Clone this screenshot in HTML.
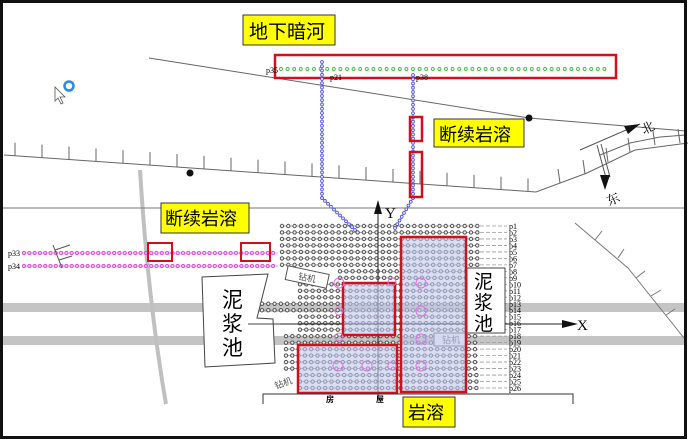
<!DOCTYPE html>
<html><head><meta charset="utf-8">
<style>
html,body{margin:0;padding:0;background:#fff}
svg{display:block}
text{font-family:"Liberation Serif","Noto Serif CJK SC",serif}
.cj{font-family:"Liberation Sans","Noto Sans CJK SC",sans-serif}
</style></head><body>
<svg id="s" width="688" height="441" viewBox="0 0 688 441" xmlns="http://www.w3.org/2000/svg">
<rect x="0" y="0" width="688" height="441" fill="#fff"/>
<rect x="3" y="303" width="682" height="9" fill="#c4c4c4"/>
<rect x="3" y="336" width="682" height="9" fill="#c4c4c4"/>
<path d="M140,170 Q148,300 166,404" stroke="#c0c0c0" stroke-width="4" fill="none"/>
<line x1="3" y1="208" x2="685" y2="208" stroke="#777" stroke-width="1"/>
<polyline points="149,58 529,118 686,131" fill="none" stroke="#666" stroke-width="1"/>
<circle cx="529" cy="118" r="3.5" fill="#111"/>
<polyline id="hl" points="4,155 536,192 587,173 635,150 688,143" fill="none" stroke="#666" stroke-width="1"/>
<g id="ticks" stroke="#666" stroke-width="1"></g>
<circle cx="190" cy="173" r="3.5" fill="#111"/>
<polyline points="600,155 630,143 660,137 686,135" fill="none" stroke="#666"/>
<line x1="580" y1="150" x2="640" y2="124" stroke="#555"/>
<polygon points="640,124 628,134 624,126" fill="#111"/>
<line x1="597" y1="145" x2="606" y2="178" stroke="#555"/>
<line x1="601" y1="144" x2="610" y2="177" stroke="#555"/>
<polygon points="605,190 600,175 610,175" fill="#111"/>
<text x="641" y="132" font-size="13" transform="rotate(-25 648 127)">北</text>
<text x="606" y="204" font-size="13" transform="rotate(-25 612 198)">东</text>
<polyline points="575,223 628,268 684,338" fill="none" stroke="#777"/>
<g stroke="#777"><line x1="595" y1="240" x2="602" y2="231"/><line x1="618" y1="258" x2="624" y2="249"/><line x1="636" y1="278" x2="645" y2="271"/><line x1="651" y1="296" x2="661" y2="290"/><line x1="666" y1="315" x2="675" y2="309"/></g>
<polygon points="202,277 268,274 257,318 273,319 275,363 205,367" fill="#fff" stroke="#444"/>
<line x1="248" y1="324" x2="300" y2="324" stroke="#444"/>
<text x="222" y="307" font-size="21" class="cj">泥</text>
<text x="222" y="331" font-size="21" class="cj">浆</text>
<text x="222" y="355" font-size="21" class="cj">池</text>
<g id="mag"></g>
<text x="8" y="256" font-size="8">p33</text>
<text x="8" y="269" font-size="8">p34</text>
<g stroke="#555"><line x1="53" y1="245" x2="62" y2="268"/><line x1="55" y1="250" x2="70" y2="245"/><line x1="59" y1="260" x2="72" y2="256"/></g>
<rect x="148" y="243" width="24" height="18" fill="none" stroke="#d0101c" stroke-width="2"/>
<rect x="241" y="243" width="29" height="18" fill="none" stroke="#d0101c" stroke-width="2"/>
<g id="grid"></g>
<line x1="378" y1="212" x2="378" y2="398" stroke="#222"/>
<polygon points="378,200 374,214 382,214" fill="#111"/>
<text x="385" y="218" font-size="15">Y</text>
<line x1="280" y1="324" x2="565" y2="324" stroke="#222"/>
<polygon points="578,324 562,320 562,328" fill="#111"/>
<text x="577" y="330" font-size="15">X</text>
<rect x="467" y="268" width="38" height="65" fill="#fff" stroke="#444"/>
<text x="474" y="288" font-size="19" class="cj">泥</text>
<text x="474" y="309" font-size="19" class="cj">浆</text>
<text x="474" y="330" font-size="19" class="cj">池</text>
<g transform="rotate(12 307 278)"><rect x="286" y="270" width="42" height="14" fill="#fff" stroke="#555"/><text x="298" y="281" font-size="9" fill="#555" class="cj">钻机</text></g>
<rect x="434" y="333" width="32" height="13" fill="#f4f4fa" stroke="#555"/><text x="442" y="343" font-size="9" fill="#555" class="cj">钻机</text>
<text x="274" y="386" font-size="9" fill="#555" class="cj" transform="rotate(-20 284 382)">钻机</text>
<rect x="401" y="237" width="65" height="155" fill="#c0c8ec" fill-opacity="0.6" stroke="#d0101c" stroke-width="2.5"/>
<rect x="343" y="283" width="52" height="52" fill="#c0c8ec" fill-opacity="0.6" stroke="#d0101c" stroke-width="2.5"/>
<rect x="298" y="345" width="99" height="48" fill="#c0c8ec" fill-opacity="0.6" stroke="#d0101c" stroke-width="2.5"/>
<g fill="none" stroke="#e070e0" stroke-width="1">
<circle cx="339" cy="283" r="5"/><circle cx="392" cy="282" r="4"/><circle cx="339" cy="311" r="4"/><circle cx="339" cy="337" r="4"/><circle cx="421" cy="283" r="5"/><circle cx="421" cy="311" r="5"/><circle cx="421" cy="339" r="5"/><circle cx="421" cy="366" r="5"/><circle cx="367" cy="366" r="5"/><circle cx="338" cy="366" r="5"/><circle cx="392" cy="366" r="4"/></g>
<text x="336" y="286" font-size="8" fill="#e070e0">1</text>
<polyline points="263,404 263,394 573,394 573,404" fill="none" stroke="#333"/>
<text x="326" y="402" font-size="8" font-weight="bold" class="cj">房</text>
<text x="376" y="402" font-size="8" font-weight="bold" class="cj">屋</text>
<g id="green"></g>
<rect x="275" y="55" width="341" height="23" fill="none" stroke="#d0101c" stroke-width="2.5"/>
<text x="266" y="73" font-size="8">p35</text>
<text x="330" y="80" font-size="8">p21</text>
<text x="416" y="80" font-size="8">p38</text>
<g id="blue"></g>
<rect x="410" y="117" width="12" height="24" fill="none" stroke="#d0101c" stroke-width="2.5"/>
<rect x="410" y="152" width="12" height="45" fill="none" stroke="#d0101c" stroke-width="2.5"/>
<rect x="243" y="15" width="92" height="30" fill="#ffff00" stroke="#333"/>
<text x="249" y="38" font-size="19" class="cj">地下暗河</text>
<rect x="434" y="119" width="90" height="28" fill="#ffff00" stroke="#333"/>
<text x="439" y="141" font-size="18" class="cj">断续岩溶</text>
<rect x="161" y="203" width="88" height="30" fill="#ffff00" stroke="#333"/>
<text x="165" y="225" font-size="18" class="cj">断续岩溶</text>
<rect x="403" y="397" width="52" height="30" fill="#ffff00" stroke="#333"/>
<text x="408" y="419" font-size="18" class="cj">岩溶</text>
<circle cx="69" cy="86" r="4.5" fill="none" stroke="#2a8be0" stroke-width="2.5"/>
<path d="M55,87 L55,101 L58,98 L61,104 L63,103 L60,97 L65,97 Z" fill="#fff" stroke="#555" stroke-width="0.8"/>
<rect x="1.5" y="1.5" width="684" height="436" fill="none" stroke="#111" stroke-width="3"/>
</svg>
<script>
var NS="http://www.w3.org/2000/svg";
function el(p,t,a){var e=document.createElementNS(NS,t);for(var k in a)e.setAttribute(k,a[k]);p.appendChild(e);return e;}
var tg=document.getElementById('ticks');
for(var x=15;x<530;x+=27){var y=155+(x-4)*(37/532);el(tg,'line',{x1:x,y1:y,x2:x,y2:y-13});}
[[560,183],[585,174],[608,162],[630,152],[655,145],[680,143]].forEach(function(p){el(tg,'line',{x1:p[0],y1:p[1],x2:p[0]-2,y2:p[1]-14});});
var mg=document.getElementById('mag');
[253,266].forEach(function(y){el(mg,'line',{x1:22,y1:y,x2:278,y2:y,stroke:'#f0a0f0','stroke-width':1});for(var x=24;x<278;x+=5.3)el(mg,'circle',{cx:x,cy:y,r:1.6,fill:'none',stroke:'#e040e0','stroke-width':0.9});});
var gg=document.getElementById('green');
for(var x=281;x<609;x+=6.6)el(gg,'circle',{cx:x,cy:69,r:1.5,fill:'none',stroke:'#40c040','stroke-width':0.9});
var bg=document.getElementById('blue');
function bl(pts){for(var i=0;i<pts.length-1;i++){var a=pts[i],b=pts[i+1],d=Math.hypot(b[0]-a[0],b[1]-a[1]),n=Math.round(d/4.3);el(bg,'line',{x1:a[0],y1:a[1],x2:b[0],y2:b[1],stroke:'#8888ee','stroke-width':1});for(var j=0;j<=n;j++){el(bg,'circle',{cx:a[0]+(b[0]-a[0])*j/n,cy:a[1]+(b[1]-a[1])*j/n,r:1.4,fill:'#fff',stroke:'#5050e0','stroke-width':0.9});}}}
bl([[322,62],[322,198],[355,230]]);bl([[413,75],[413,198],[395,228]]);
var gr=document.getElementById('grid');
for(var r=0;r<26;r++){var y=226+r*6.48;var x0=r<7?282:(r<11?300:(r==12||r==13?262:(r>=17&&r<=22?286:300)));
if(r==7||r==8)x0=340;
el(gr,'line',{x1:x0,y1:y,x2:478,y2:y,stroke:'#888','stroke-width':0.8});
for(var x=x0;x<478;x+=6.3)el(gr,'circle',{cx:x,cy:y,r:1.7,fill:'#eee',stroke:'#555','stroke-width':1});
el(gr,'line',{x1:480,y1:y,x2:507,y2:y,stroke:'#999','stroke-width':0.8,'stroke-dasharray':'4,2'});
var t=el(gr,'text',{x:509,y:y+3,'font-size':8});t.textContent='p'+(r+1);}
</script>
</body></html>
